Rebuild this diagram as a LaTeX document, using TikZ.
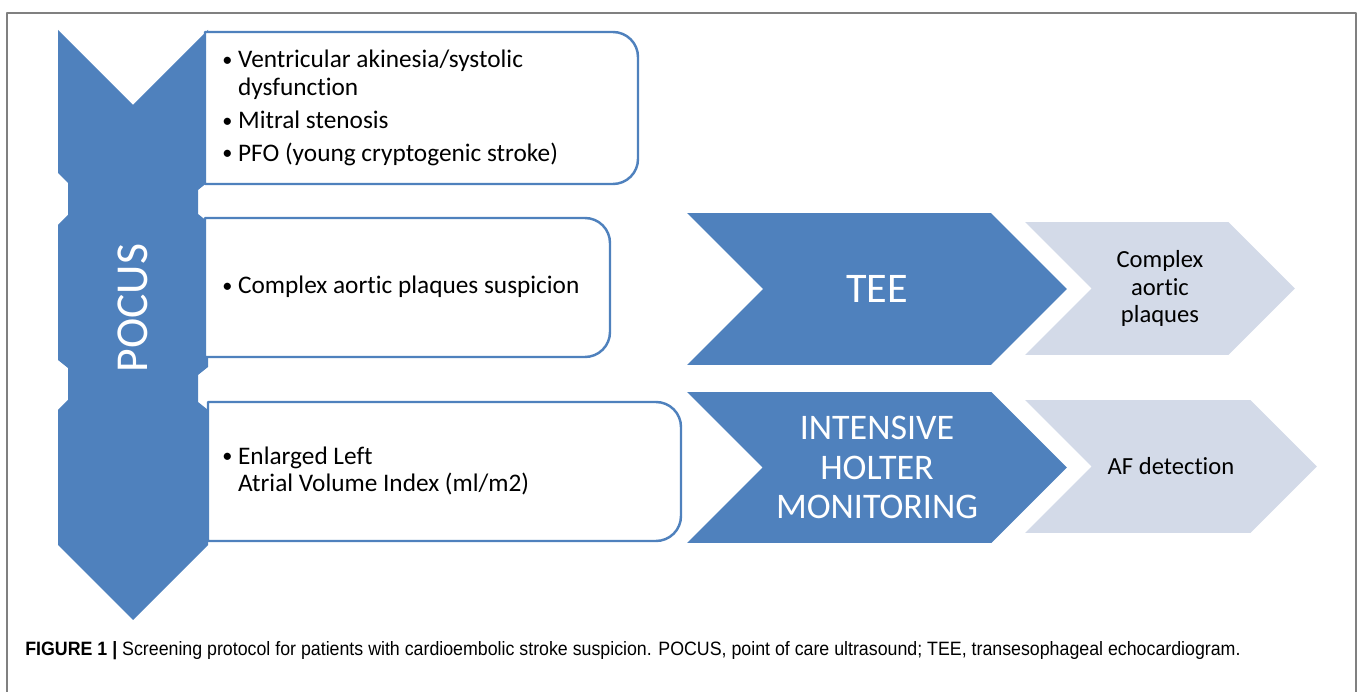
\documentclass[tikz,border=0pt]{standalone}
\usepackage{fontspec}
\setmainfont{Carlito}[Ligatures=CommonOff]
\newfontfamily\capfont{Liberation Sans}[FakeStretch=0.92]
\usetikzlibrary{shapes.symbols}
\definecolor{pblue}{RGB}{79,129,189}
\definecolor{plight}{RGB}{211,218,232}
\definecolor{pframe}{RGB}{128,128,128}
\tikzset{
chev/.style={signal,signal from=west,signal to=east,signal pointer angle=90,inner sep=0pt,align=center},
darkchev/.style={chev,fill=pblue,text=white},
lightchev/.style={chev,fill=plight,text=black},
item/.style={anchor=west,align=left,inner sep=0pt,font=\fontsize{14.4}{15.9}\selectfont},
}
% box with round corners on the right side only
\newcommand{\rbox}[4]{%
\draw[pblue,line width=1.4pt,fill=white] (#1,#2)--(#3-25,#2)
arc[start angle=90,end angle=0,radius=.5cm]--(#3,#4-25)
arc[start angle=0,end angle=-90,radius=.5cm]--(#1,#4)--cycle;}
\newcommand{\bul}{\raisebox{.12ex}{\scalebox{.8}{\textbullet}}\ }
\begin{document}
\begin{tikzpicture}[line join=round, x=.02cm, y=-.02cm]
\useasboundingbox (0,0) rectangle (1357,692);
\draw[pframe,line width=1pt] (7,700)--(7,13)--(1356,13)--(1356,700);
% big down arrow
\fill[pblue] (58,30)--(133,105)--(208,30)
--(208,182)--(198,190)--(198,214)--(208,222)
--(208,367)--(198,375)--(198,402)--(208,410)
--(208,545)--(133,620)--(58,545)
--(58,410)--(68,400)--(68,368)--(58,360)
--(58,225)--(68,215)--(68,183)--(58,173)--cycle;
\node[rotate=90,text=white,font=\fontsize{26}{30}\selectfont] (pocus) at (133,308) {POCUS};
\rbox{205}{32}{638}{184}
\rbox{205}{218}{610}{357}
\rbox{208}{402}{681}{541}
\node[item] (heart) at (222,108) {\bul Ventricular akinesia/systolic\\
\phantom{\bul}dysfunction\\[2.8pt]
\bul Mitral stenosis\\[2.8pt]
\bul PFO (young cryptogenic stroke)};
\node[item] (plaq) at (222,287) {\bul Complex aortic plaques suspicion};
\node[item] (atrium) at (222,471) {\bul Enlarged Left\\
\phantom{\bul}Atrial Volume Index (ml/m2)};
% right hand chevrons
\node[darkchev,minimum width=7.6cm,minimum height=3.04cm,font=\fontsize{24}{28}\selectfont] (tee) at (877,289) {TEE};
\node[lightchev,minimum width=5.4cm,minimum height=2.66cm,font=\fontsize{14}{15.9}\selectfont] (cplx) at (1160,288.5) {Complex\\aortic\\plaques};
\node[darkchev,minimum width=7.6cm,minimum height=3.02cm,font=\fontsize{20.5}{22.7}\selectfont] (holter) at (877,467.5) {INTENSIVE\\HOLTER\\MONITORING};
\node[lightchev,minimum width=5.84cm,minimum height=2.66cm,font=\fontsize{14}{15.9}\selectfont] (af) at (1171,466.5) {AF detection};
\node[anchor=west,inner sep=0pt,font=\capfont\fontsize{11}{13}\selectfont] (caption) at (25,651)
{\textbf{FIGURE 1 |} Screening protocol for patients with cardioembolic stroke suspicion. POCUS, point of care ultrasound; TEE, transesophageal echocardiogram.};
\end{tikzpicture}
\end{document}
